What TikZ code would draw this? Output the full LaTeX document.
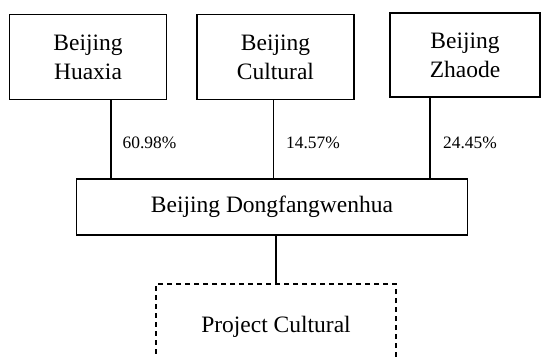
\documentclass[tikz,border=0pt]{standalone}
\usepackage{fontspec}
\setmainfont{Liberation Serif}
\begin{document}
\begin{tikzpicture}[x=1pt,y=-1pt,
  boxtxt/.style={font=\fontsize{23.5}{29}\selectfont},
  entity/.style={draw, line width=1.7pt, boxtxt, align=center, inner sep=0pt},
  share/.style={font=\fontsize{17.4}{20}\selectfont, anchor=base west, inner sep=0pt},
  link/.style={line width=1.5pt}]
\useasboundingbox (0,0) rectangle (541,357);
\node[entity, minimum width=157, minimum height=85] (hx) at (88,57) {Beijing\\Huaxia};
\node[entity, minimum width=157, minimum height=85] (cu) at (275.5,57) {Beijing\\Cultural};
\node[entity, minimum width=150, minimum height=84.5] (zh) at (465,55) {Beijing\\Zhaode};
\node[entity, minimum width=391, minimum height=56] (dg) at (272,207) {Beijing Dongfangwenhua};
\node[entity, dashed, dash pattern=on 5pt off 4pt, minimum width=240, minimum height=85] (pc) at (276,326.5) {Project Cultural};
\coordinate (c1) at (110.8,179);
\coordinate (c2) at (273.6,179);
\coordinate (c3) at (430,179);
\draw[link] (hx.south -| c1) -- (dg.north -| c1);
\draw[link] (cu.south -| c2) -- (dg.north -| c2);
\draw[link] (zh.south -| c3) -- (dg.north -| c3);
\draw[link] (dg.south -| pc.north) -- (pc.north);
\node[share] (p1) at (122.5,148.5) {60.98\%};
\node[share] (p2) at (286,148.5) {14.57\%};
\node[share] (p3) at (443,148.5) {24.45\%};
\end{tikzpicture}
\end{document}
